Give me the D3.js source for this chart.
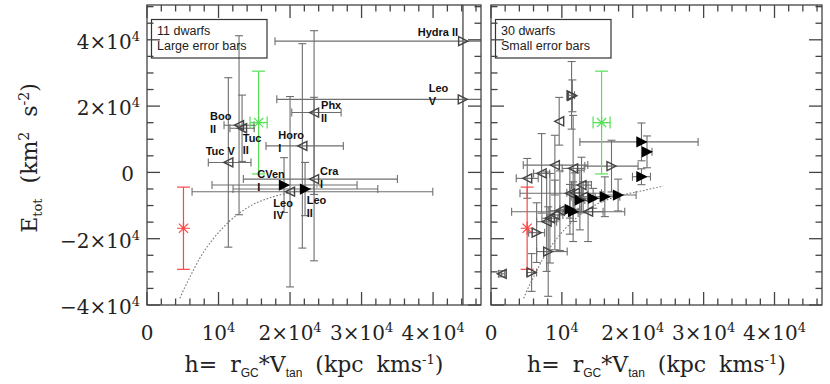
<!DOCTYPE html>
<html>
<head>
<meta charset="utf-8">
<script src="https://cdn.jsdelivr.net/npm/d3@7"></script>
<style>
  body { margin: 0; background: #fff; }
  svg { display: block; }
</style>
</head>
<body>
<div id="chart"></div>
<script>
// tick values and labels
var xTickVals = [0, 10000, 20000, 30000, 40000];
var xTickText = [["0", ""], ["10", "4"], ["2\u00d710", "4"], ["3\u00d710", "4"], ["4\u00d710", "4"]];
var yTickVals = [-40000, -20000, 0, 20000, 40000];
var yTickText = [["\u22124\u00d710", "4"], ["\u22122\u00d710", "4"], ["0", ""], ["2\u00d710", "4"], ["4\u00d710", "4"]];

// left panel: 11 dwarfs, large error bars
var leftNames = ["Hydra II", "Leo V", "Phx II", "Boo II", "Tuc II", "Horo I", "Tuc V", "Cra II", "CVen I", "Leo IV", "Leo II"];
var leftLabelLines = [["Hydra II"], ["Leo", "V"], ["Phx", "II"], ["Boo", "II"], ["Tuc", "II"], ["Horo", "I"], ["Tuc V"], ["Cra", "I"], ["CVen", "I"], ["Leo", "IV"], ["Leo", "II"]];
var leftH = [44200, 44150, 23360, 12870, 13290, 21720, 11370, 23360, 19160, 20000, 22100];
var leftE = [39600, 22040, 18050, 14230, 13320, 8000, 3010, -2015, -3820, -5830, -5020];
var leftHLo = [26300, 26000, 3120, 2100, 1700, 5080, 2800, 9890, 10070, 13700, 10070];
var leftHHi = [20000, 20000, 3780, 2100, 1700, 5730, 3170, 11650, 10210, 19960, 10170];
var leftEErr = [90000, 90000, 24700, 27000, 10000, 30830, 25560, 24660, 8270, 28720, 8030];
var leftMarker = ["R", "R", "L", "L", "L", "L", "L", "L", "F", "L", "F"];

// right panel: 30 dwarfs, small error bars
var rightH = [11370, 11480, 9620, 21230, 22010, 17000, 9010, 11590, 7140, 5110, 21230, 12770, 11130, 11830, 12540,
              13000, 14410, 16060, 17930, 11130, 11590, 9720, 9010, 8310, 7850, 13700, 6440, 8070, 5730, 1510];
var rightE = [23250, 23100, 15430, 9200, 6200, 1900, 2200, 1200, -300, -1800, -1300, -3820, -6300, -6140, -8330,
              -7340, -7820, -7340, -6830, -11130, -11850, -11550, -12840, -13830, -14860, -11850, -18170, -23880, -30190, -30590];
var rightHLo = [420, 0, 0, 8690, 700, 3760, 4460, 1550, 1130, 1550, 1270, 1400, 7040, 1130, 700,
                1690, 1410, 2110, 2110, 1410, 8680, 1410, 1130, 1130, 1410, 1410, 1130, 1630, 700, 420];
var rightHHi = [420, 0, 0, 7990, 700, 3750, 4650, 1550, 1130, 1550, 1270, 1400, 4460, 1130, 700,
                1690, 1410, 2110, 2540, 1410, 7280, 1410, 1130, 1130, 1410, 2110, 1130, 2680, 700, 420];
var rightEErr = [10200, 4800, 7200, 5700, 4800, 7800, 9000, 16000, 12000, 6000, 2400, 8400, 7500, 6000, 9000,
                 4500, 3000, 6000, 4800, 7500, 9000, 12000, 10500, 13500, 15000, 9000, 9000, 13500, 5700, 900];
var rightMarker = ["R", "R", "L", "F", "F", "R", "L", "L", "L", "L", "F", "L", "L", "L", "F",
                   "L", "F", "F", "F", "F", "F", "L", "L", "L", "L", "L", "R", "R", "R", "L"];

// reference stars (red, green)
var refH = [5100, 15600];
var refE = [-16840, 15040];
var refHErr = [0, 1200];
var refEErr = [12400, 15500];
var refColor = ["#ff4545", "#55e055"];

// dotted curve
var curveH = [4600, 5000, 6000, 7400, 9200, 11400, 14000, 17700, 21000, 24300];
var curveE = [-38000, -36000, -31600, -25800, -20200, -15000, -10700, -7300, -5700, -4100];

// label placement (pixels, relative to marker)
var leftLabelOffsets = [[-5, -4.7, "end"], [-34, -7, "start"], [7, -3.3, "start"], [-29, -5, "start"],
                        [0.7, 13.7, "start"], [-24, -6.4, "start"], [-22.6, -7.3, "start"], [6, -4, "start"],
                        [-26.7, -6.7, "start"], [-16.7, 15, "start"], [1.7, 15.3, "start"]];

var serif = "'DejaVu Serif', serif";
var sans = "'Liberation Sans', Arial, sans-serif";

function richText(sel, parts) {
  var shift = 0;
  parts.forEach(function(p) {
    if (p.t === "") return;
    var target = p.k === "sup" ? -8 : (p.k === "sub" ? 5 : 0);
    var ts = sel.append("tspan").text(p.t).attr("dy", target - shift);
    shift = target;
    if (p.size) ts.style("font-size", p.size);
    if (p.f) ts.style("font-family", p.f);
  });
}

function triPath(kind) {
  var s = 4.5;
  if (kind === "L") return "M" + (-s) + ",0L" + s + "," + (-s) + "L" + s + "," + s + "Z";
  return "M" + s + ",0L" + (-s) + "," + (-s) + "L" + (-s) + "," + s + "Z";
}

function starPath(r) {
  var p = "";
  for (var k = 0; k < 4; k++) {
    var a = k * Math.PI / 4;
    p += "M" + (r * Math.cos(a)) + "," + (r * Math.sin(a)) + "L" + (-r * Math.cos(a)) + "," + (-r * Math.sin(a));
  }
  return p;
}

function drawPanel(svg, id, x0, x1, pts, legendLines, labels) {
  var x = d3.scaleLinear().domain([0, 46700]).range([x0, x1]);
  var y = d3.scaleLinear().domain([-40000, 50500]).range([305, 5]);

  svg.append("clipPath").attr("id", id)
    .append("rect").attr("x", x0).attr("y", 5).attr("width", x1 - x0).attr("height", 300);

  var g = svg.append("g").attr("clip-path", "url(#" + id + ")");

  // legend box
  svg.append("rect")
    .attr("x", x0 + 4.5).attr("y", 19.5)
    .attr("width", 115.5).attr("height", 38.5)
    .style("fill", "none").style("stroke", "#333").style("stroke-width", 1.2);
  legendLines.forEach(function(t, i) {
    svg.append("text")
      .attr("x", x0 + 10).attr("y", 35 + i * 15)
      .style("font-family", sans).style("font-size", "12.5px").style("fill", "#222")
      .text(t);
  });

  // dotted curve
  var line = d3.line().x(function(d) { return x(d[0]); }).y(function(d) { return y(d[1]); }).curve(d3.curveMonotoneX);
  g.append("path")
    .datum(curveH.map(function(h, i) { return [h, curveE[i]]; }))
    .attr("d", line)
    .style("fill", "none").style("stroke", "#777").style("stroke-width", 1.1)
    .style("stroke-dasharray", "1.6,1.8");

  // error bars
  var cap = 4;
  pts.forEach(function(d) {
    var cx = x(d.h), cy = y(d.e);
    var xl = x(d.h - d.hLo), xr = x(d.h + d.hHi);
    var yt = y(d.e + d.eErr), yb = y(d.e - d.eErr);
    var eb = g.append("g").style("stroke", "#6e6e6e").style("stroke-width", 1.1);
    if (d.hLo > 0 || d.hHi > 0) {
      eb.append("line").attr("x1", xl).attr("x2", xr).attr("y1", cy).attr("y2", cy);
      eb.append("line").attr("x1", xl).attr("x2", xl).attr("y1", cy - cap).attr("y2", cy + cap);
      eb.append("line").attr("x1", xr).attr("x2", xr).attr("y1", cy - cap).attr("y2", cy + cap);
    }
    if (d.eErr > 0) {
      eb.append("line").attr("x1", cx).attr("x2", cx).attr("y1", yt).attr("y2", yb);
      eb.append("line").attr("x1", cx - cap).attr("x2", cx + cap).attr("y1", yt).attr("y2", yt);
      eb.append("line").attr("x1", cx - cap).attr("x2", cx + cap).attr("y1", yb).attr("y2", yb);
    }
  });

  // reference stars
  refH.forEach(function(h, i) {
    var cx = x(h), cy = y(refE[i]);
    var sg = g.append("g").style("stroke", refColor[i]).style("stroke-width", 1.2).style("fill", "none");
    var yt = y(refE[i] + refEErr[i]), yb = y(refE[i] - refEErr[i]);
    sg.append("line").attr("x1", cx).attr("x2", cx).attr("y1", yt).attr("y2", yb);
    sg.append("line").attr("x1", cx - 6.5).attr("x2", cx + 6.5).attr("y1", yt).attr("y2", yt);
    sg.append("line").attr("x1", cx - 6.5).attr("x2", cx + 6.5).attr("y1", yb).attr("y2", yb);
    if (refHErr[i] > 0) {
      var xl = x(h - refHErr[i]), xr = x(h + refHErr[i]);
      sg.append("line").attr("x1", xl).attr("x2", xr).attr("y1", cy).attr("y2", cy);
      sg.append("line").attr("x1", xl).attr("x2", xl).attr("y1", cy - 6).attr("y2", cy + 6);
      sg.append("line").attr("x1", xr).attr("x2", xr).attr("y1", cy - 6).attr("y2", cy + 6);
    }
    sg.append("path").attr("transform", "translate(" + cx + "," + cy + ")").attr("d", starPath(6.5));
  });

  // markers
  g.selectAll(".mk")
    .data(pts)
    .enter()
    .append("path")
    .attr("class", "mk")
    .attr("transform", function(d) { return "translate(" + x(d.h) + "," + y(d.e) + ")"; })
    .attr("d", function(d) { return triPath(d.m); })
    .style("fill", function(d) { return d.m === "F" ? "#000" : "none"; })
    .style("stroke", function(d) { return d.m === "F" ? "#000" : "#444"; })
    .style("stroke-width", 1.4);

  // dwarf labels
  if (labels) {
    pts.forEach(function(d, i) {
      var off = labels.offsets[i];
      labels.lines[i].forEach(function(t, j) {
        svg.append("text")
          .attr("x", x(d.h) + off[0]).attr("y", y(d.e) + off[1] + j * 12.5)
          .style("text-anchor", off[2])
          .style("font-family", sans).style("font-weight", "bold").style("font-size", "11px").style("fill", "#111")
          .text(t);
      });
    });
  }

  // frame and ticks
  var fg = svg.append("g").style("stroke", "#444").style("stroke-width", 1.3).style("fill", "none");
  fg.append("rect").attr("x", x0).attr("y", 5).attr("width", x1 - x0).attr("height", 300);
  d3.range(0, 46701, 2000).forEach(function(v) {
    var len = v % 10000 === 0 ? 13 : 6.5;
    fg.append("line").attr("x1", x(v)).attr("x2", x(v)).attr("y1", 305).attr("y2", 305 - len);
    fg.append("line").attr("x1", x(v)).attr("x2", x(v)).attr("y1", 5).attr("y2", 5 + len);
  });
  d3.range(-40000, 50501, 5000).forEach(function(v) {
    var len = v % 20000 === 0 ? 13 : 6.5;
    fg.append("line").attr("x1", x0).attr("x2", x0 + len).attr("y1", y(v)).attr("y2", y(v));
    fg.append("line").attr("x1", x1).attr("x2", x1 - len).attr("y1", y(v)).attr("y2", y(v));
  });

  // x tick labels
  xTickVals.forEach(function(v, i) {
    var t = svg.append("text")
      .attr("x", x(v)).attr("y", 340)
      .style("text-anchor", "middle")
      .style("font-family", serif).style("font-size", "20px").style("fill", "#222");
    richText(t, [{ t: xTickText[i][0] }, { t: xTickText[i][1], k: "sup", size: "13px" }]);
  });

  // x title
  var xt = svg.append("text")
    .attr("x", (x0 + x1) / 2).attr("y", 372)
    .style("text-anchor", "middle").style("word-spacing", "6px")
    .style("font-family", serif).style("font-size", "22px").style("fill", "#222");
  richText(xt, [
    { t: "h= r" }, { t: "GC", k: "sub", size: "12px", f: sans }, { t: "*V" },
    { t: "tan", k: "sub", size: "12px", f: sans }, { t: " (kpc kms" }, { t: "-1", k: "sup", size: "13px" }, { t: ")" }
  ]);

  return y;
}

function drawChart() {
  var svg = d3.select("#chart").append("svg")
    .attr("width", 830)
    .attr("height", 384)
    .style("background-color", "#fff");

  var leftPts = leftH.map(function(h, i) {
    return { name: leftNames[i], h: h, e: leftE[i], hLo: leftHLo[i], hHi: leftHHi[i], eErr: leftEErr[i], m: leftMarker[i] };
  });
  var rightPts = rightH.map(function(h, i) {
    return { h: h, e: rightE[i], hLo: rightHLo[i], hHi: rightHHi[i], eErr: rightEErr[i], m: rightMarker[i] };
  });

  var y = drawPanel(svg, "clipL", 147, 481, leftPts, ["11 dwarfs", "Large error bars"],
    { lines: leftLabelLines, offsets: leftLabelOffsets });
  drawPanel(svg, "clipR", 491, 822, rightPts, ["30 dwarfs", "Small error bars"], null);

  // y tick labels (left panel only)
  yTickVals.forEach(function(v, i) {
    var t = svg.append("text")
      .attr("x", yTickText[i][1] ? 140 : 134).attr("y", y(v) + 9)
      .style("text-anchor", "end")
      .style("font-family", serif).style("font-size", "20px").style("fill", "#222");
    richText(t, [{ t: yTickText[i][0] }, { t: yTickText[i][1], k: "sup", size: "13px" }]);
  });

  // y title
  var yt = svg.append("text")
    .attr("transform", "translate(37,158) rotate(-90)")
    .style("text-anchor", "middle").style("word-spacing", "8px")
    .style("font-family", serif).style("font-size", "22px").style("fill", "#222");
  richText(yt, [
    { t: "E" }, { t: "tot", k: "sub", size: "13px" }, { t: " (km" }, { t: "2", k: "sup", size: "14px" },
    { t: " s" }, { t: "-2", k: "sup", size: "14px" }, { t: ")" }
  ]);
}

drawChart();
</script>
</body>
</html>
